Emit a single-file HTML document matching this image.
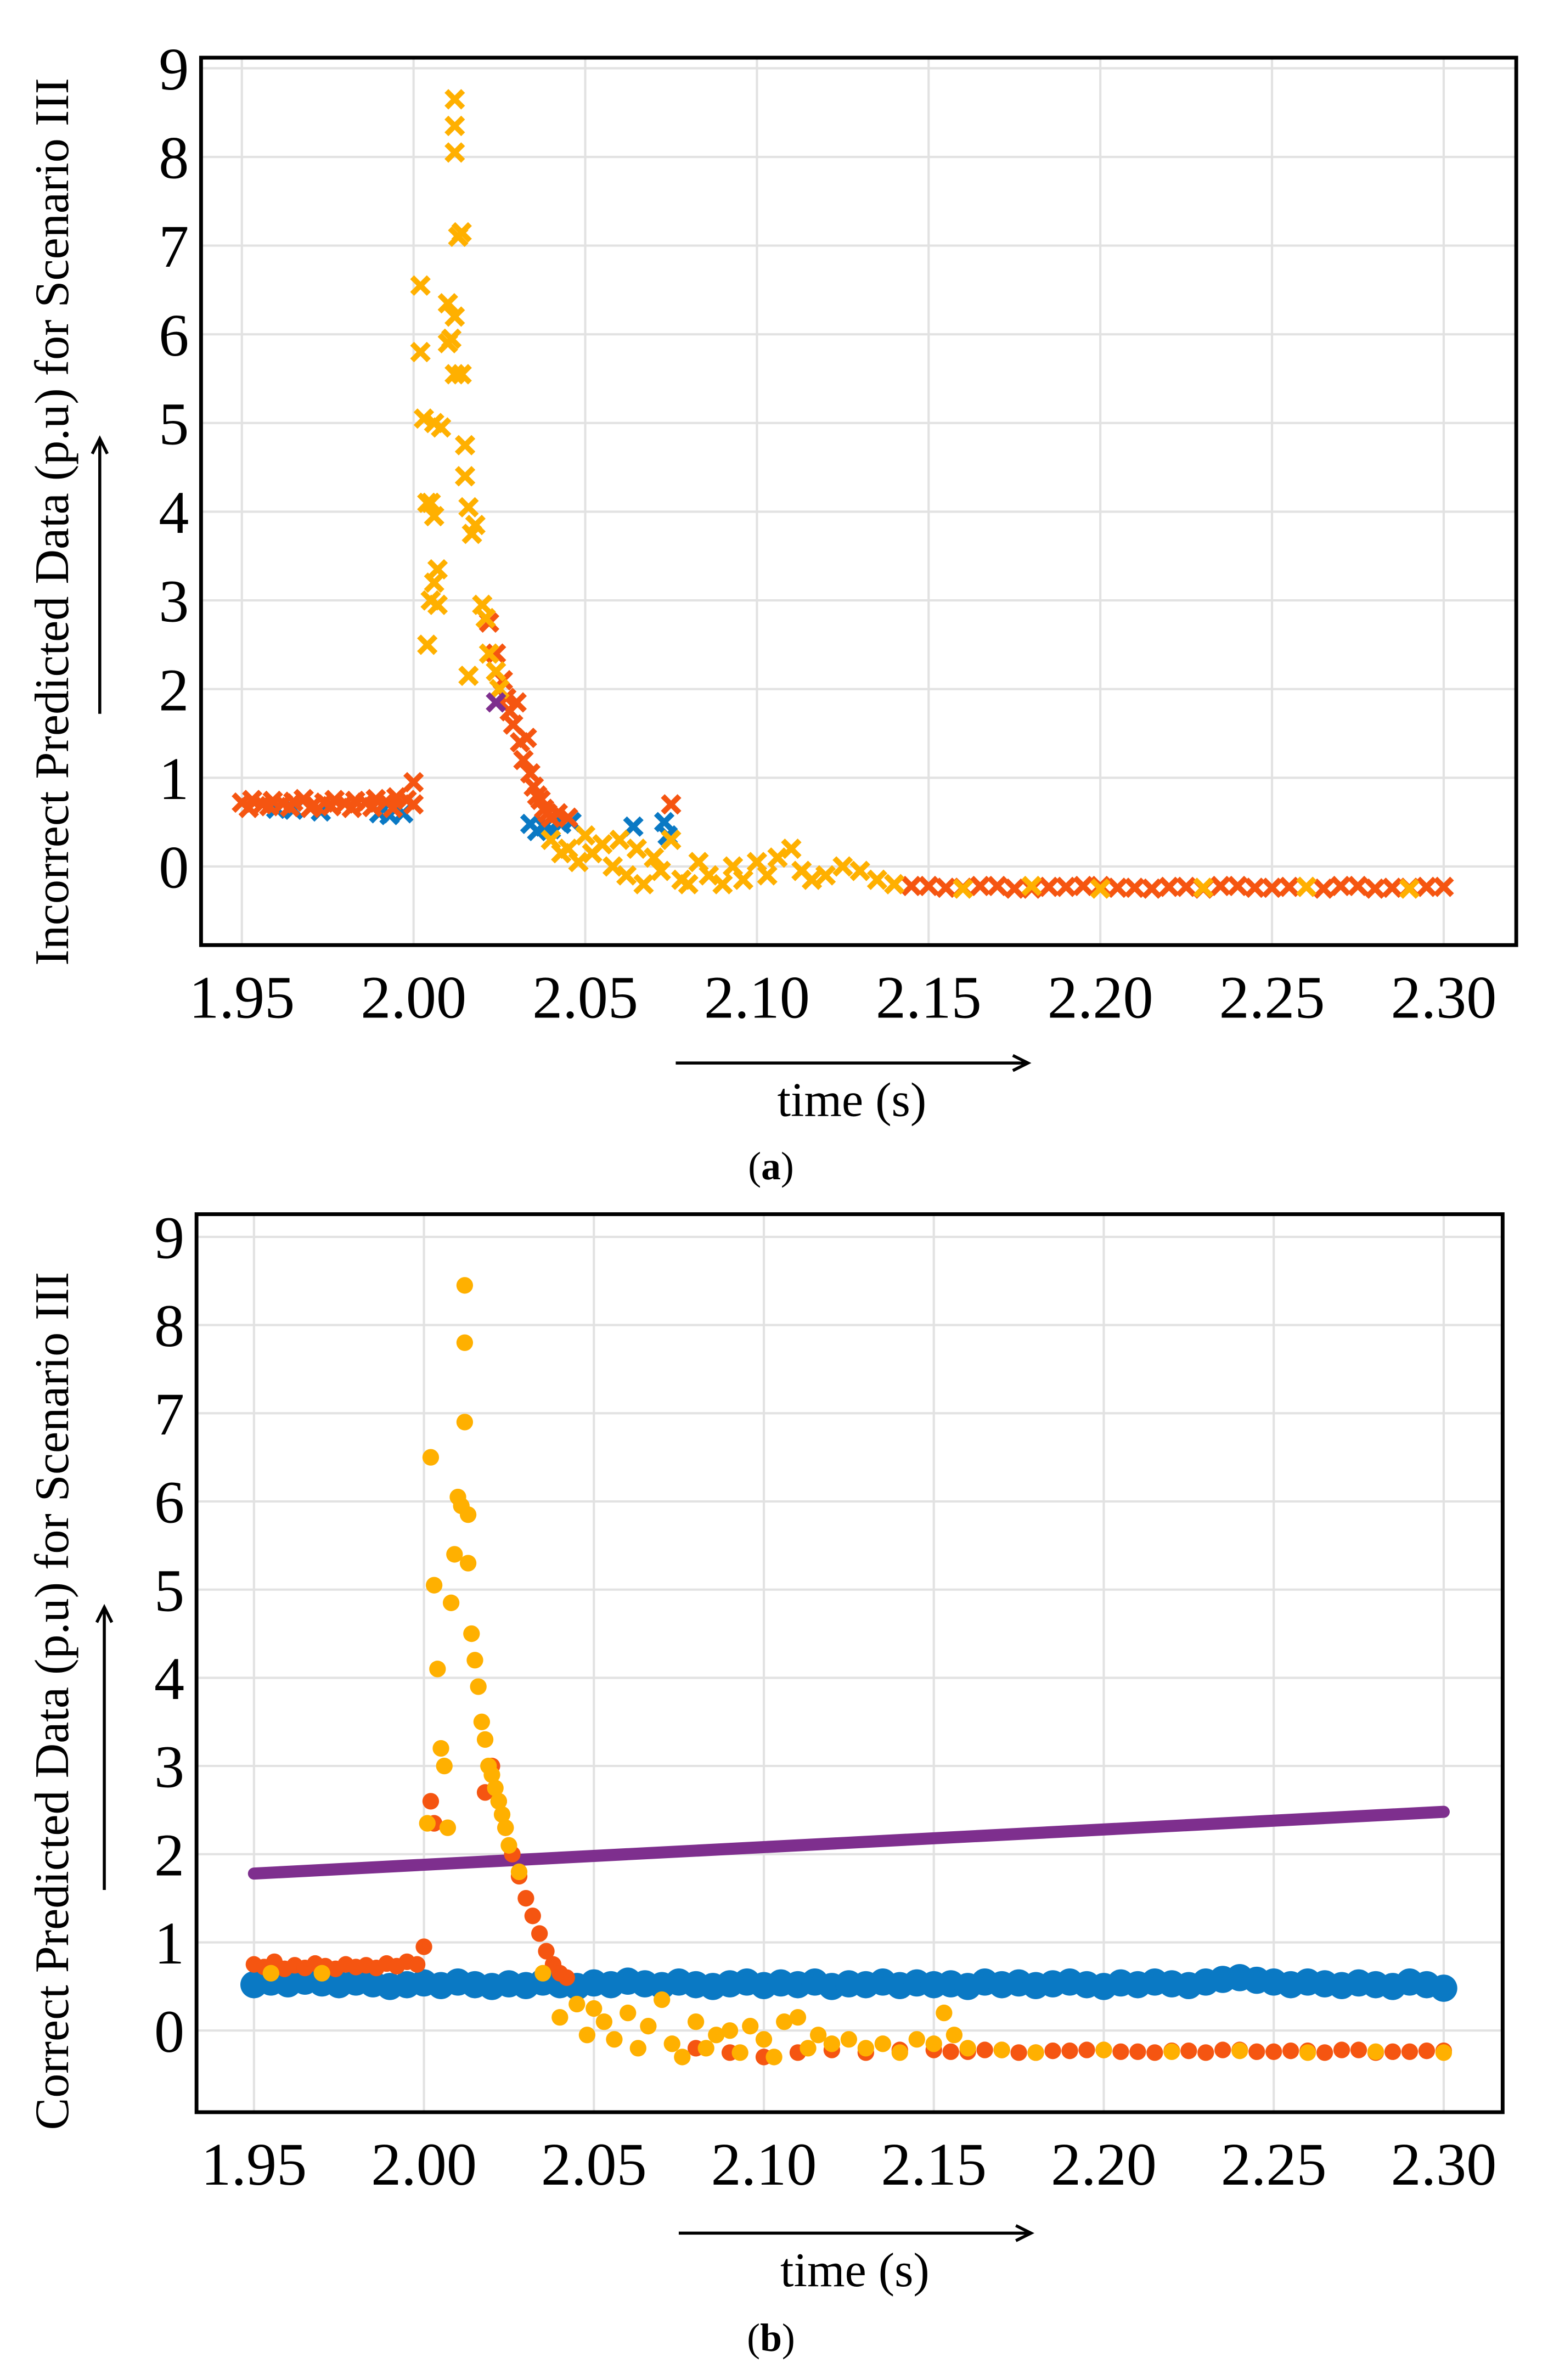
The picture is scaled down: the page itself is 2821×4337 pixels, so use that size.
<!DOCTYPE html>
<html><head><meta charset="utf-8"><style>
html,body{margin:0;padding:0;background:#fff}
svg{display:block}
text{font-family:"Liberation Serif",serif;fill:#000}
</style></head><body>
<svg id="chart" width="2821" height="4337" viewBox="0 0 1024 1574" xmlns="http://www.w3.org/2000/svg">
<g id="panelA"></g>
<g id="panelB"></g>
</svg>
<script>
const xTicks=[1.95,2.00,2.05,2.10,2.15,2.20,2.25,2.30];
const xTickLabels=["1.95","2.00","2.05","2.10","2.15","2.20","2.25","2.30"];
const yTicks=[0,1,2,3,4,5,6,7,8,9];
const yTickLabels=["0","1","2","3","4","5","6","7","8","9"];
const tail=[2.15,2.16,2.17,2.18,2.19,2.20,2.21,2.22,2.23,2.24,2.25,2.26,2.27,2.28,2.29,2.30,2.155,2.165,2.175,2.185,2.195,2.205,2.215,2.225,2.235,2.245,2.255,2.265,2.275,2.285,2.295];
const tailV=[-0.22,-0.24,-0.22,-0.25,-0.23,-0.22,-0.24,-0.23,-0.25,-0.22,-0.24,-0.23,-0.22,-0.25,-0.24,-0.23,-0.24,-0.22,-0.25,-0.23,-0.22,-0.24,-0.25,-0.23,-0.22,-0.24,-0.23,-0.25,-0.22,-0.24,-0.23];
// Panel A
const aRedX=[1.950,1.953,1.956,1.959,1.962,1.965,1.968,1.971,1.974,1.977,1.980,1.983,1.986,1.989,1.992,1.995,1.998,2.000,2.000,1.952,1.958,1.964,1.970,1.976,1.982,1.988,1.994,2.022,2.024,2.026,2.027,2.028,2.029,2.030,2.031,2.032,2.033,2.034,2.035,2.036,2.037,2.038,2.039,2.040,2.042,2.045,2.075,2.14,2.145].concat(tail);
const aRedY=[0.72,0.75,0.70,0.74,0.71,0.73,0.76,0.70,0.72,0.75,0.71,0.74,0.72,0.76,0.73,0.78,0.75,0.95,0.70,0.66,0.68,0.67,0.66,0.68,0.66,0.67,0.66,2.75,2.40,2.10,1.90,1.75,1.60,1.85,1.40,1.20,1.45,1.05,0.90,0.80,0.75,0.65,0.60,0.55,0.60,0.55,0.70,-0.20,-0.22].concat(tailV);
const aYelX=[2.002,2.002,2.003,2.004,2.005,2.004,2.005,2.006,2.007,2.006,2.007,2.006,2.008,2.010,2.010,2.011,2.012,2.012,2.013,2.014,2.012,2.012,2.012,2.014,2.015,2.015,2.016,2.017,2.018,2.016,2.020,2.021,2.022,2.024,2.025,2.040,2.043,2.045,2.048,2.050,2.052,2.055,2.058,2.060,2.062,2.065,2.067,2.070,2.072,2.075,2.078,2.080,2.083,2.086,2.090,2.093,2.096,2.100,2.103,2.106,2.110,2.113,2.116,2.120,2.125,2.130,2.135,2.140,2.160,2.180,2.200,2.230,2.260,2.290];
const aYelY=[6.55,5.80,5.05,4.10,4.10,2.50,3.00,3.20,3.35,3.95,2.95,5.00,4.95,5.90,6.35,5.95,6.20,5.55,7.10,7.15,8.05,8.35,8.65,5.55,4.75,4.40,4.05,3.75,3.85,2.15,2.95,2.80,2.40,2.20,2.00,0.30,0.15,0.20,0.05,0.35,0.15,0.25,0.00,0.30,-0.10,0.20,-0.20,0.10,-0.05,0.30,-0.15,-0.20,0.05,-0.10,-0.20,0.00,-0.15,0.05,-0.10,0.10,0.20,-0.05,-0.15,-0.10,0.00,-0.05,-0.15,-0.20,-0.25,-0.22,-0.25,-0.24,-0.23,-0.25];
const aBluX=[1.960,1.965,1.973,1.990,1.993,1.997,2.034,2.036,2.038,2.040,2.043,2.046,2.064,2.073,2.074];
const aBluY=[0.65,0.64,0.62,0.60,0.58,0.60,0.48,0.40,0.45,0.42,0.48,0.50,0.45,0.50,0.35];
const aPurX=[2.024];
const aPurY=[1.85];
// Panel B
const bBluX=[1.950,1.955,1.960,1.965,1.970,1.975,1.980,1.985,1.990,1.995,2.000,2.005,2.010,2.015,2.020,2.025,2.030,2.035,2.040,2.045,2.050,2.055,2.060,2.065,2.070,2.075,2.080,2.085,2.090,2.095,2.100,2.105,2.110,2.115,2.120,2.125,2.130,2.135,2.140,2.145,2.150,2.155,2.160,2.165,2.170,2.175,2.180,2.185,2.190,2.195,2.200,2.205,2.210,2.215,2.220,2.225,2.230,2.235,2.240,2.245,2.250,2.255,2.260,2.265,2.270,2.275,2.280,2.285,2.290,2.295,2.300];
const bBluY=[0.52,0.55,0.53,0.56,0.54,0.52,0.55,0.53,0.50,0.52,0.54,0.51,0.55,0.52,0.50,0.53,0.51,0.55,0.52,0.50,0.54,0.52,0.56,0.53,0.51,0.55,0.52,0.50,0.53,0.55,0.51,0.54,0.52,0.55,0.50,0.53,0.52,0.55,0.51,0.54,0.52,0.53,0.50,0.55,0.52,0.54,0.51,0.53,0.55,0.52,0.50,0.54,0.52,0.55,0.53,0.51,0.55,0.58,0.60,0.57,0.55,0.52,0.55,0.53,0.51,0.54,0.52,0.50,0.55,0.52,0.48];
const bPurX=[1.95,2.30];
const bPurY=[1.78,2.48];
const bRedX=[1.950,1.953,1.956,1.959,1.962,1.965,1.968,1.971,1.974,1.977,1.980,1.983,1.986,1.989,1.992,1.995,1.998,2.000,2.002,2.003,2.018,2.020,2.022,2.024,2.026,2.028,2.030,2.032,2.034,2.036,2.038,2.040,2.042,2.080,2.090,2.100,2.110,2.120,2.130,2.140].concat(tail);
const bRedY=[0.75,0.72,0.78,0.70,0.74,0.71,0.76,0.73,0.70,0.75,0.72,0.74,0.71,0.76,0.73,0.78,0.75,0.95,2.60,2.35,2.70,3.00,2.60,2.30,2.00,1.75,1.50,1.30,1.10,0.90,0.75,0.65,0.60,-0.20,-0.25,-0.30,-0.25,-0.22,-0.25,-0.22].concat(tailV);
const bYelX=[1.955,1.970,2.001,2.002,2.003,2.004,2.005,2.006,2.007,2.008,2.009,2.010,2.011,2.012,2.012,2.012,2.013,2.013,2.014,2.015,2.016,2.017,2.018,2.019,2.020,2.021,2.022,2.023,2.024,2.025,2.028,2.035,2.040,2.045,2.048,2.050,2.053,2.056,2.060,2.063,2.066,2.070,2.073,2.076,2.080,2.083,2.086,2.090,2.093,2.096,2.100,2.103,2.106,2.110,2.113,2.116,2.120,2.125,2.130,2.135,2.140,2.145,2.150,2.153,2.156,2.160,2.170,2.180,2.200,2.220,2.240,2.260,2.280,2.300];
const bYelY=[0.65,0.65,2.35,6.50,5.05,4.10,3.20,3.00,2.30,4.85,5.40,6.05,5.95,8.45,7.80,6.90,5.85,5.30,4.50,4.20,3.90,3.50,3.30,3.00,2.90,2.75,2.60,2.45,2.30,2.10,1.80,0.65,0.15,0.30,-0.05,0.25,0.10,-0.10,0.20,-0.20,0.05,0.35,-0.15,-0.30,0.10,-0.20,-0.05,0.00,-0.25,0.05,-0.10,-0.30,0.10,0.15,-0.20,-0.05,-0.15,-0.10,-0.20,-0.15,-0.25,-0.10,-0.15,0.20,-0.05,-0.20,-0.22,-0.25,-0.22,-0.24,-0.23,-0.25,-0.24,-0.25];

const NS="http://www.w3.org/2000/svg";
function mk(parent,tag,attrs){const e=document.createElementNS(NS,tag);for(const k in attrs)e.setAttribute(k,attrs[k]);parent.appendChild(e);return e;}
const RED="#f55511",YEL="#ffb000",BLU="#0a79c4",PUR="#7e2f8e";

function panel(g,box,x0px,x1px,y0px,y9px){
  const xs=t=>x0px+(t-1.95)/(0.35)*(x1px-x0px);
  const ys=v=>y0px+(v/9)*(y9px-y0px);
  xTicks.forEach((t,i)=>{
    const l=mk(g,'line',{x1:xs(t),x2:xs(t),y1:box.y,y2:box.y+box.h,stroke:'#e2e2e2','stroke-width':1.5});
    
    
    const tx=mk(g,'text',{x:xs(t),y:box.y+box.h+48,'font-size':40,'text-anchor':'middle'});
    tx.textContent=xTickLabels[i];
    
    
  });
  yTicks.forEach((v,i)=>{
    const l=mk(g,'line',{x1:box.x,x2:box.x+box.w,y1:ys(v),y2:ys(v),stroke:'#e2e2e2','stroke-width':1.5});
    
    
    const tx=mk(g,'text',{x:box.x-8,y:ys(v)+14,'font-size':40,'text-anchor':'end'});
    tx.textContent=yTickLabels[i];
    
    
  });
  return {xs,ys};
}
function crosses(g,X,Y,c,ax,name){
  X.forEach((t,i)=>{
    const x=ax.xs(t),y=ax.ys(Y[i]),s=5.5;
    const p=mk(g,'path',{d:`M${x-s} ${y-s}L${x+s} ${y+s}M${x-s} ${y+s}L${x+s} ${y-s}`,stroke:c,'stroke-width':3.6,fill:'none'});
    
    
  });
}
function dots(g,X,Y,c,ax,name,r){
  X.forEach((t,i)=>{
    const p=mk(g,'circle',{cx:ax.xs(t),cy:ax.ys(Y[i]),r:r,fill:c});
    
    
  });
}
function frame(g,box){
  const r=mk(g,'rect',{x:box.x,y:box.y,width:box.w,height:box.h,fill:'none',stroke:'#000','stroke-width':2.5});
  
  
}
function labels(g,ylab,ycx,arrX,arrY1,arrY2,xArrY,xLabY,capY,cap,xArr1,xArr2){
  const yl=mk(g,'text',{x:0,y:0,'font-size':32,'text-anchor':'middle',transform:`translate(45 ${ycx}) rotate(-90)`});
  yl.textContent=ylab;
  
  
  const ya=mk(g,'path',{d:`M${arrX} ${arrY1}L${arrX} ${arrY2}M${arrX-5} ${arrY2+10}L${arrX} ${arrY2}L${arrX+5} ${arrY2+10}`,stroke:'#000','stroke-width':2,fill:'none'});
  
  
  const xa=mk(g,'path',{d:`M${xArr1} ${xArrY}L${xArr2} ${xArrY}M${xArr2-10} ${xArrY-5}L${xArr2} ${xArrY}L${xArr2-10} ${xArrY+5}`,stroke:'#000','stroke-width':2,fill:'none'});
  
  
  const xl=mk(g,'text',{x:(xArr1+xArr2)/2,y:xLabY,'font-size':32,'text-anchor':'middle'});
  xl.textContent='time (s)';
  
  
  const c=mk(g,'text',{x:510,y:capY,'font-size':26,'text-anchor':'middle'});
  c.innerHTML='(<tspan font-weight="bold">'+cap+'</tspan>)';
  
  
}
// Panel A
const gA=document.getElementById('panelA');
const boxA={x:133,y:38,w:870,h:587};
const axA=panel(gA,boxA,160,955,573,45);
crosses(gA,aBluX,aBluY,BLU,axA,'blue-cross-marker');
crosses(gA,aRedX,aRedY,RED,axA,'red-cross-marker');
crosses(gA,aYelX,aYelY,YEL,axA,'yellow-cross-marker');
crosses(gA,aPurX,aPurY,PUR,axA,'purple-cross-marker');
frame(gA,boxA);
labels(gA,'Incorrect Predicted Data (p.u) for Scenario III',345,66,472,290,703,738,780,'a',447,680);
// Panel B
const gB=document.getElementById('panelB');
const boxB={x:130,y:803,w:864,h:594};
const axB=panel(gB,boxB,168,955,1343,818);
dots(gB,bBluX,bBluY,BLU,axB,'blue-dot-marker',9);
const pl=mk(gB,'line',{x1:axB.xs(bPurX[0]),y1:axB.ys(bPurY[0]),x2:axB.xs(bPurX[1]),y2:axB.ys(bPurY[1]),stroke:PUR,'stroke-width':8,'stroke-linecap':'round'});


dots(gB,bRedX,bRedY,RED,axB,'red-dot-marker',5.5);
dots(gB,bYelX,bYelY,YEL,axB,'yellow-dot-marker',5.5);
frame(gB,boxB);
labels(gB,'Correct Predicted Data (p.u) for Scenario III',1125,69,1250,1063,1477,1512,1555,'b',449,682);
</script>
</body></html>
